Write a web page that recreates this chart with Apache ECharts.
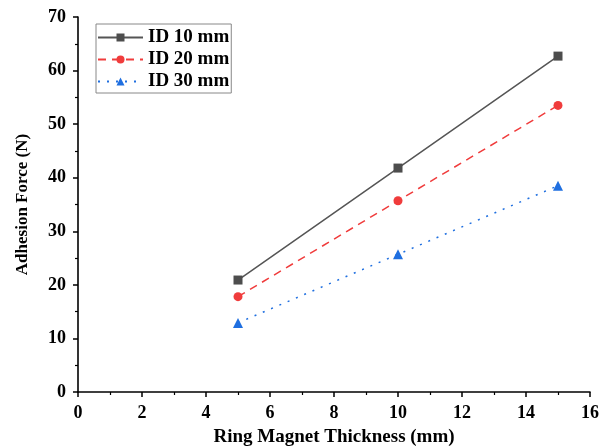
<!DOCTYPE html>
<html>
<head>
<meta charset="utf-8">
<script src="https://cdn.jsdelivr.net/npm/echarts@6/dist/echarts.min.js"></script>
<style>
  html, body { margin: 0; padding: 0; background: #fff; }
  #chart { width: 601px; height: 446px; }
</style>
</head>
<body>
<div id="chart"></div>
<script>
// ring magnet thickness (mm)
const thickness = [5, 10, 15];
// adhesion force (N) per inner diameter
const id10 = [20.9, 41.8, 62.7];
const id20 = [17.8, 35.7, 53.5];
const id30 = [12.9, 25.7, 38.5];
const seriesNames = ['ID 10 mm', 'ID 20 mm', 'ID 30 mm'];

const font = 'Liberation Serif';
const chart = echarts.init(document.getElementById('chart'));

function pairs(ys) {
    return thickness.map((x, i) => [x, ys[i]]);
}

const axisCommon = {
    axisLine: { show: true, lineStyle: { color: '#000', width: 1.6 } },
    axisTick: { show: true, inside: false, length: 5, lineStyle: { color: '#000', width: 1.5 } },
    minorTick: { show: true, splitNumber: 2, length: 3, lineStyle: { color: '#000', width: 1.2 } },
    splitLine: { show: false },
    axisLabel: { color: '#000', fontFamily: font, fontWeight: 'bold', fontSize: 18, margin: 12 }
};

chart.setOption({
    animation: false,
    grid: { left: 78, right: 11, top: 17, bottom: 54, containLabel: false, outerBoundsMode: 'none' },
    legend: {
        orient: 'vertical',
        left: 96,
        top: 24,
        borderColor: '#888',
        borderWidth: 1,
        padding: [4, 2, 2, 1],
        itemGap: 3,
        itemWidth: 45,
        itemHeight: 10,
        textStyle: { color: '#000', fontFamily: font, fontWeight: 'bold', fontSize: 19 },
        data: seriesNames
    },
    xAxis: Object.assign({}, axisCommon, {
        type: 'value',
        min: 0,
        max: 16,
        interval: 2,
        name: 'Ring Magnet Thickness (mm)',
        nameLocation: 'middle',
        nameGap: 36,
        nameTextStyle: { color: '#000', fontFamily: font, fontWeight: 'bold', fontSize: 19 }
    }),
    yAxis: Object.assign({}, axisCommon, {
        type: 'value',
        min: 0,
        max: 70,
        interval: 10,
        name: 'Adhesion Force (N)',
        nameLocation: 'middle',
        nameGap: 47,
        nameTextStyle: { color: '#000', fontFamily: font, fontWeight: 'bold', fontSize: 17 }
    }),
    series: [
        {
            name: seriesNames[0],
            type: 'line',
            data: pairs(id10),
            symbol: 'rect',
            symbolSize: 9,
            itemStyle: { color: '#4d4d4d' },
            lineStyle: { color: '#555', width: 1.5, type: 'solid' }
        },
        {
            name: seriesNames[1],
            type: 'line',
            data: pairs(id20),
            symbol: 'circle',
            symbolSize: 9,
            itemStyle: { color: '#f03c3c' },
            lineStyle: { color: '#f03c3c', width: 1.5, type: [8, 6] }
        },
        {
            name: seriesNames[2],
            type: 'line',
            data: pairs(id30),
            symbol: 'triangle',
            symbolSize: 10,
            itemStyle: { color: '#1f6fe0' },
            lineStyle: { color: '#1f6fe0', width: 1.5, type: [2, 7] }
        }
    ]
});

window.addEventListener('resize', () => chart.resize());
</script>
</body>
</html>
